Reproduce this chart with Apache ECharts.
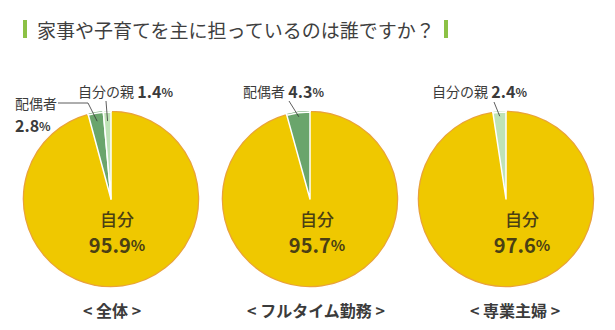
<!DOCTYPE html>
<html>
<head>
<meta charset="utf-8">
<style>
  html, body { margin: 0; padding: 0; background: #ffffff; }
  #chart { width: 615px; height: 330px; }
</style>
<script src="https://cdn.jsdelivr.net/npm/echarts@6/dist/echarts.min.js"></script>
</head>
<body>
<div id="chart"></div>
<script>
// Who mainly does the housework and childcare? (share of answers, %)
const headline = '家事や子育てを主に担っているのは誰ですか？';
const groups = ['< 全体 >', '< フルタイム勤務 >', '< 専業主婦 >'];
const sliceNames = ['自分', '配偶者', '自分の親'];
const selfShare = [95.9, 95.7, 97.6];
const spouseShare = [2.8, 4.3, 0];
const parentShare = [1.4, 0, 2.4];

// Layout (pixels)
const FONT = '"Noto Sans CJK JP", "Noto Sans", sans-serif';
const pieCenters = [[111, 199], [310, 199], [506, 199]];
const outerR = 89;
const innerR = 87;
const groupLabelX = [112, 316, 515];
const groupLabelY = 310;
const mainLabelX = [117, 317, 522];
const mainLabelY = 231;
// callout labels of the small slices: [pie][sliceName] -> label anchor + leader line
const callouts = [
  {
    '配偶者': { at: [15, 114], line: [[58, 103], [88, 103]], reach: 79 },
    '自分の親': { at: [78, 91], line: [[106, 101]], reach: 78 }
  },
  { '配偶者': { at: [243, 91], line: [[289, 101]], reach: 83 } },
  { '自分の親': { at: [432, 91], line: [[494, 102]], reach: 83 } }
];

const COLORS = { '自分': '#efc800', '配偶者': '#6aa56c', '自分の親': '#bfe3b6' };
const RIM = '#e9a23b';
const TEXT = '#3b3b3b';
const INK = '#4a3f14';

function sliceData(i) {
  const vals = [selfShare[i], spouseShare[i], parentShare[i]];
  const out = [];
  vals.forEach((v, k) => {
    if (v > 0) out.push({ name: sliceNames[k], value: v });
  });
  return out;
}

// Leader lines: end inside each small slice, at its mid angle
// (pie starts at 12 o'clock and runs clockwise).
function leaderLines(i) {
  const data = sliceData(i);
  const total = data.reduce((s, d) => s + d.value, 0);
  const [cx, cy] = pieCenters[i];
  const lines = [];
  let cum = 0;
  data.forEach(d => {
    const c = callouts[i][d.name];
    if (c) {
      const midDeg = 90 - 360 * (cum + d.value / 2) / total;
      const a = midDeg * Math.PI / 180;
      const tip = [cx + c.reach * Math.cos(a), cy - c.reach * Math.sin(a)];
      lines.push({
        type: 'polyline',
        silent: true,
        z: 100,
        shape: { points: c.line.concat([tip]) },
        style: { stroke: '#333333', lineWidth: 0.8, fill: null }
      });
    }
    cum += d.value;
  });
  return lines;
}

const series = [];
groups.forEach((g, i) => {
  const data = sliceData(i);
  // rim layer: orange ring around the main slice
  series.push({
    type: 'pie',
    center: pieCenters[i],
    radius: outerR,
    startAngle: 90,
    clockwise: true,
    silent: true,
    avoidLabelOverlap: false,
    label: { show: false },
    labelLine: { show: false },
    data: data.map(d => ({
      name: d.name,
      value: d.value,
      itemStyle: {
        color: d.name === '自分' ? RIM : COLORS[d.name],
        borderColor: '#ffffff',
        borderWidth: 1.5
      }
    }))
  });
  // main layer with labels
  series.push({
    type: 'pie',
    center: pieCenters[i],
    radius: innerR,
    startAngle: 90,
    clockwise: true,
    silent: true,
    avoidLabelOverlap: false,
    labelLine: { show: false },
    data: data.map(d => {
      const isMain = d.name === '自分';
      const item = {
        name: d.name,
        value: d.value,
        itemStyle: {
          color: COLORS[d.name],
          borderColor: '#ffffff',
          borderWidth: isMain ? 0 : 1.5
        }
      };
      if (isMain) {
        item.label = {
          show: true,
          position: 'inside',
          formatter: p => '{n|' + p.name + '}\n{b|' + p.value.toFixed(1) + '}{p|%}',
          rich: {
            n: { fontFamily: FONT, fontSize: 17, color: INK, lineHeight: 26, fontWeight: 500 },
            b: { fontFamily: FONT, fontSize: 20, color: INK, fontWeight: 'bold', lineHeight: 26 },
            p: { fontFamily: FONT, fontSize: 15, color: INK, fontWeight: 'bold', lineHeight: 26 }
          }
        };
      } else {
        const twoLine = i === 0 && d.name === '配偶者';
        item.label = {
          show: true,
          position: 'outside',
          formatter: p => '{n|' + p.name + '}' + (twoLine ? '\n' : ' ') + '{b|' + p.value.toFixed(1) + '}{p|%}',
          rich: {
            n: { fontFamily: FONT, fontSize: 14, color: TEXT, lineHeight: 22 },
            b: { fontFamily: FONT, fontSize: 16, color: TEXT, fontWeight: 'bold', lineHeight: 22 },
            p: { fontFamily: FONT, fontSize: 12, color: TEXT, fontWeight: 'bold', lineHeight: 22 }
          }
        };
      }
      return item;
    }),
    labelLayout: params => {
      const d = data[params.dataIndex];
      if (!d) return {};
      if (d.name === '自分') {
        return { x: mainLabelX[i], y: mainLabelY, align: 'center', verticalAlign: 'middle' };
      }
      const c = callouts[i][d.name];
      if (!c) return {};
      return { x: c.at[0], y: c.at[1], align: 'left', verticalAlign: 'middle' };
    }
  });
});

const chart = echarts.init(document.getElementById('chart'), null, { renderer: 'svg' });
chart.setOption({
  animation: false,
  backgroundColor: '#ffffff',
  graphic: [
    { type: 'rect', shape: { x: 23, y: 20, width: 4, height: 18 }, style: { fill: '#8cc145' } },
    { type: 'rect', shape: { x: 444, y: 20, width: 4, height: 18 }, style: { fill: '#8cc145' } },
    {
      type: 'text', x: 37, y: 29,
      style: { text: headline, font: '19px ' + FONT, fill: '#3f3f3f', textVerticalAlign: 'middle' }
    }
  ].concat(groups.map((g, i) => ({
    type: 'text', x: groupLabelX[i], y: groupLabelY,
    style: {
      text: g, font: 'bold 16px ' + FONT, fill: TEXT,
      textAlign: 'center', textVerticalAlign: 'middle'
    }
  }))).concat(groups.flatMap((g, i) => leaderLines(i))),
  series: series
});
</script>
</body>
</html>
